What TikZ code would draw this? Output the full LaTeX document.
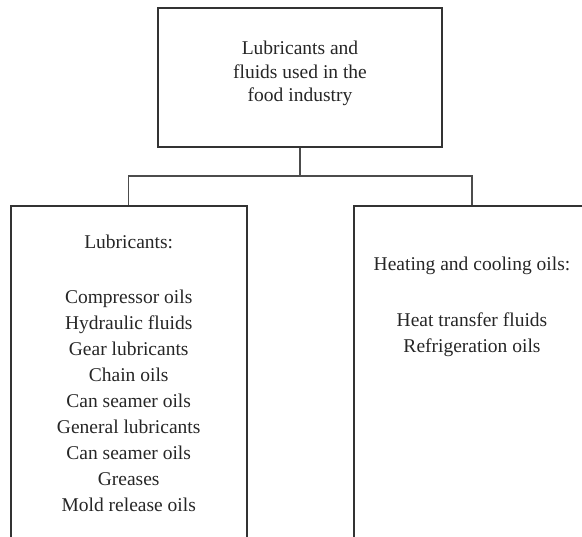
\documentclass[tikz,border=0pt]{standalone}
\usepackage{fontspec}
\setmainfont{Liberation Serif}
\usetikzlibrary{positioning}
\begin{document}
\begin{tikzpicture}[x=1pt, y=-1pt,
		box/.style={draw=black!80, line width=1.9pt, rectangle, inner sep=0pt},
		link/.style={draw=black!70, line width=1.1pt},
		txt/.style={align=center, inner sep=0pt, anchor=north, text=black!85, font=\fontsize{19.5}{26}\selectfont}]
		\useasboundingbox (0,0) rectangle (582,537);
		\node[box, minimum width=284pt, minimum height=139pt] (F) at (300,77.5) {};
		\node[txt, font=\fontsize{19.5}{23.5}\selectfont] (Ft) at (300,41) {Lubricants and\\ fluids used in the\\ food industry};
		\node[box, minimum width=236pt, minimum height=354pt] (L) at (128.7,383) {};
		\node[box, minimum width=236pt, minimum height=354pt] (H) at (472,383) {};
		\node[txt] (Lt) at (128.7,235) {Lubricants:\\[29pt] Compressor oils\\ Hydraulic fluids\\ Gear lubricants\\ Chain oils\\ Can seamer oils\\ General lubricants\\ Can seamer oils\\ Greases\\ Mold release oils};
		\node[txt] (Ht) at (472,257) {Heating and cooling oils:\\[30pt] Heat transfer fluids\\ Refrigeration oils};
		\coordinate (J) at (300,176);
		\draw[link] (F.south) -- (J);
		\draw[link] (J) -| (L.north);
		\draw[link] (J) -| (H.north);
	\end{tikzpicture}
\end{document}
